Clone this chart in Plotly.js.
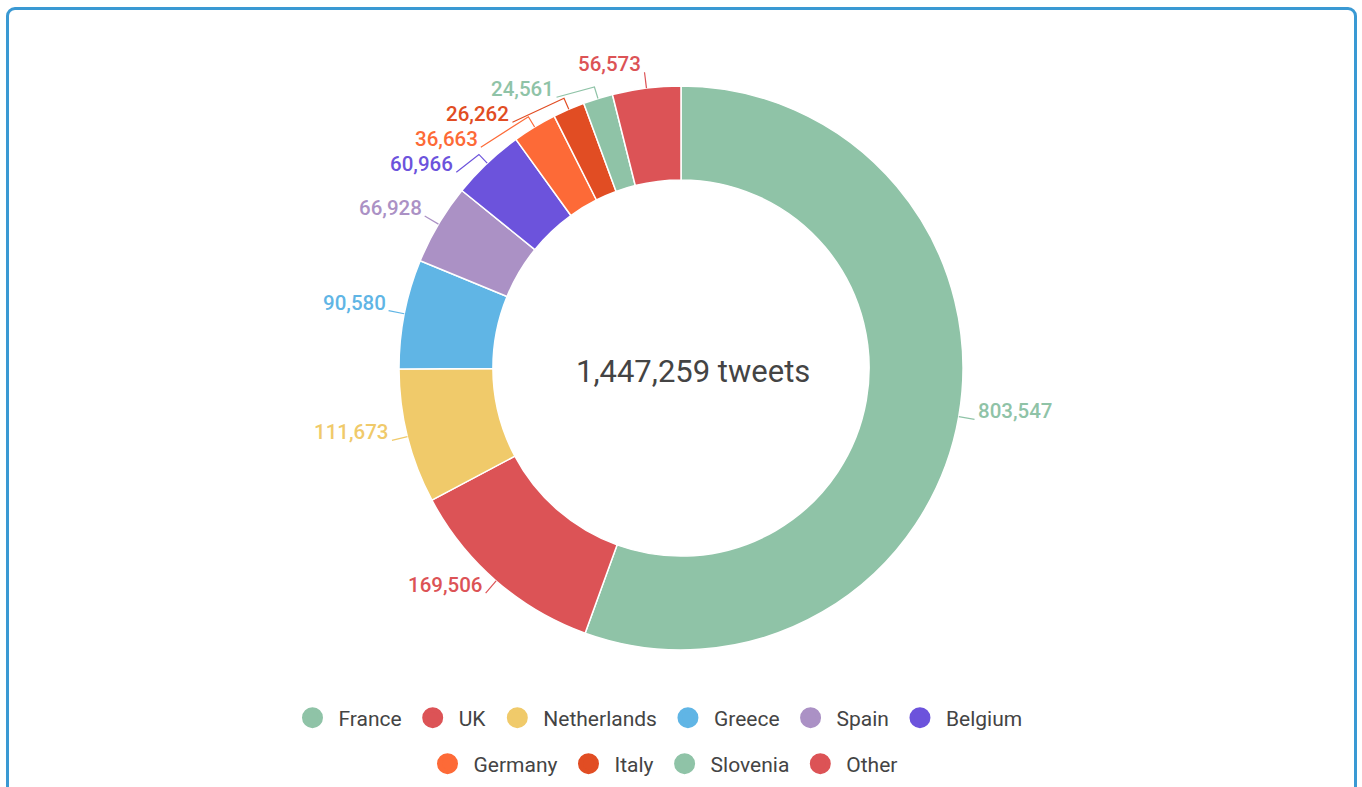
<!DOCTYPE html>
<html>
<head>
<meta charset="utf-8">
<script src="https://cdn.plot.ly/plotly-3.0.1.min.js"></script>
<style>
html,body{margin:0;padding:0;background:#fff;overflow:hidden;}
#chart{position:absolute;left:0;top:0;width:1362px;height:787px;}
#frame{position:absolute;left:6px;top:7px;width:1351px;height:800px;border:3px solid #3a99d3;border-radius:9px;pointer-events:none;box-sizing:border-box;}
</style>
</head>
<body>
<div id="chart"></div>
<div id="frame"></div>
<script>
const countries = ["France","UK","Netherlands","Greece","Spain","Belgium","Germany","Italy","Slovenia","Other"];
const tweets = [803547,169506,111673,90580,66928,60966,36663,26262,24561,56573];
const colors = ["#8fc3a7","#dc5356","#f0ca6a","#60b5e5","#ab91c5","#6c53dc","#fd6a37","#e14d23","#8fc3a7","#dc5356"];
const totalLabel = "1,447,259 tweets";
const legendRow = ["legend","legend","legend","legend","legend","legend","legend2","legend2","legend2","legend2"];

const font = "Roboto, 'Noto Sans', sans-serif";
const W = 1362, H = 787;
// geometry (pixels): ring centre/radius, leader-end radius, knee length, min label spacing, text lift
const CX = 681, CY = 368, R = 282, RL = 298, KNEE = 12, GAP = 25, LIFT = 8;

const ringPie = {
  type: "pie",
  labels: countries,
  values: tweets,
  sort: false,
  direction: "clockwise",
  rotation: 0,
  hole: 0.667,
  marker: {colors: colors, line: {color: "#ffffff", width: 1.5}},
  textinfo: "none",
  showlegend: false,
  domain: {x: [0, 1], y: [1 - (CY + R)/H, 1 - (CY - R)/H]},
  hoverinfo: "label+value+percent"
};

const legendTraces = countries.map((c, i) => ({
  type: "scatter",
  mode: "markers",
  x: [null], y: [null],
  name: c,
  legend: legendRow[i],
  marker: {symbol: "circle", size: 16, color: colors[i], line: {color: colors[i], width: 6}},
  hoverinfo: "skip"
}));

// ---- outside value labels with leader lines, laid out from the data ----
const total = tweets.reduce((a, b) => a + b, 0);
let cum = 0;
const items = tweets.map((v, i) => {
  const a = 2 * Math.PI * (cum + v / 2) / total;
  cum += v;
  const s = Math.sin(a), c = Math.cos(a);
  return {i, s, c, left: s < 0, ex: CX + RL * s, ey: CY - RL * c, pushed: false};
});
[true, false].forEach(side => {
  const list = items.filter(d => d.left === side).sort((p, q) => p.ey - q.ey);
  let prev = -Infinity;
  list.forEach(d => {
    if (d.ey < prev + GAP) {
      d.ey = prev + GAP;
      d.pushed = true;
      const dy = d.ey - CY;
      const dx = Math.sqrt(Math.max(RL * RL - dy * dy, 0));
      d.ex = CX + (d.left ? -dx : dx);
    }
    prev = d.ey;
  });
});

const shapes = items.map(d => {
  const px = R * d.s, py = R * d.c;
  const kx = (R + KNEE) * d.s, ky = (R + KNEE) * d.c;
  const ex = d.ex - CX, ey = CY - d.ey;
  const path = d.pushed
    ? `M${px},${py} L${kx},${ky} L${ex},${ey}`
    : `M${px},${py} L${ex},${ey}`;
  return {
    type: "path", xref: "paper", yref: "paper",
    xsizemode: "pixel", ysizemode: "pixel",
    xanchor: 0.5, yanchor: 1 - CY / H,
    path: path,
    line: {color: colors[d.i], width: 1.2}
  };
});

const valueLabels = items.map(d => ({
  text: tweets[d.i].toLocaleString("en-US"),
  xref: "paper", yref: "paper",
  x: d.ex / W, y: 1 - (d.ey - LIFT) / H,
  xanchor: d.left ? "right" : "left",
  yanchor: "middle",
  xshift: d.left ? -1 : 1,
  showarrow: false,
  font: {family: font, size: 20.5, color: colors[d.i], weight: 500}
}));

const legendCommon = {
  orientation: "h",
  xanchor: "center",
  x: (CX - 24) / W,
  yanchor: "middle",
  itemwidth: 42,
  font: {family: font, size: 21, color: "#444444"},
  itemclick: false,
  itemdoubleclick: false,
  bgcolor: "rgba(0,0,0,0)"
};

const layout = {
  width: W,
  height: H,
  margin: {l: 0, r: 0, t: 0, b: 0},
  paper_bgcolor: "#ffffff",
  plot_bgcolor: "#ffffff",
  font: {family: font, color: "#444444"},
  xaxis: {visible: false, domain: [0, 0.001]},
  yaxis: {visible: false, domain: [0, 0.001]},
  legend: Object.assign({}, legendCommon, {y: 1 - 718/H}),
  legend2: Object.assign({}, legendCommon, {x: (CX - 19) / W, y: 1 - 764/H}),
  shapes: shapes,
  annotations: [{
    text: totalLabel,
    xref: "paper", yref: "paper",
    x: 0.5, y: 1 - 372/H,
    xshift: 12,
    showarrow: false,
    font: {family: font, size: 31, color: "#444444"}
  }].concat(valueLabels)
};

Plotly.newPlot("chart", [ringPie].concat(legendTraces), layout, {displayModeBar: false});
</script>
</body>
</html>
